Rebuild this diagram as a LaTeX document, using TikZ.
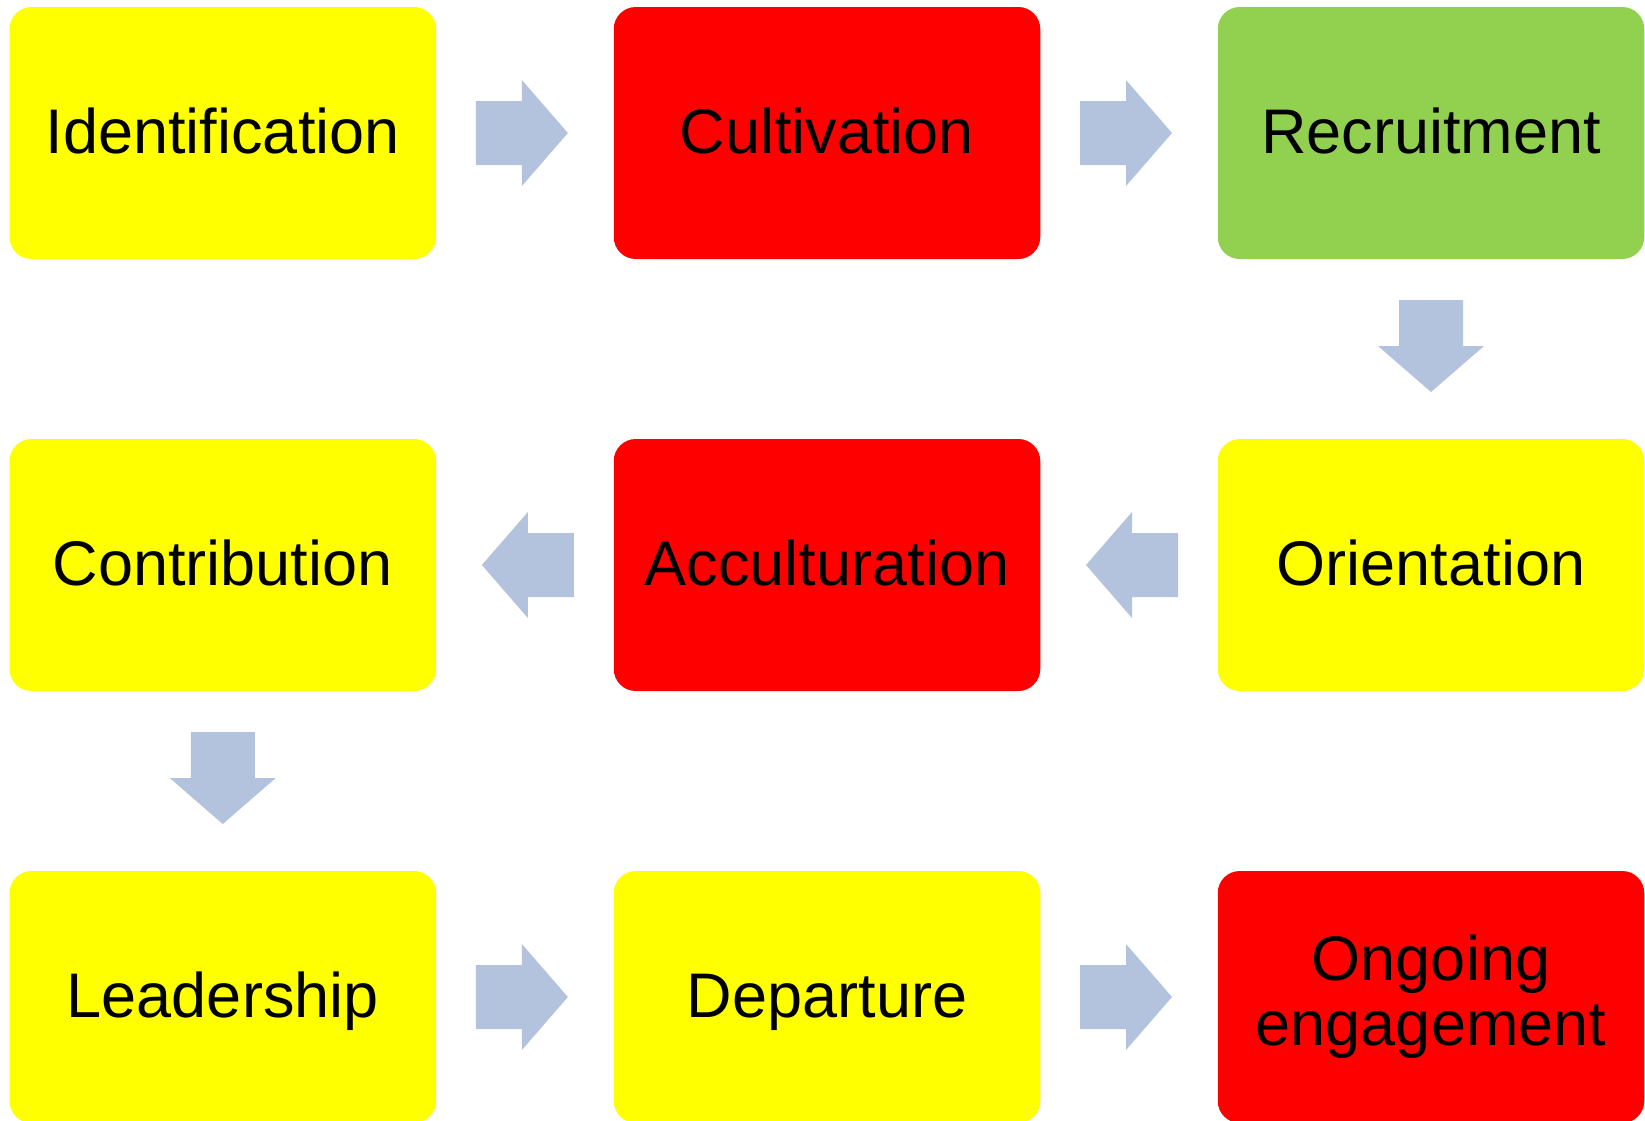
\documentclass[tikz,border=0pt]{standalone}
\usepackage{fontspec}
\setmainfont{Liberation Sans}
\usetikzlibrary{calc}

\definecolor{stepyellow}{RGB}{255,255,0}
\definecolor{stepred}{RGB}{255,0,0}
\definecolor{stepgreen}{RGB}{146,208,80}
\definecolor{arrowblue}{RGB}{179,195,222}

\tikzset{
  x=1pt, y=1pt,
  stagebox/.style={rectangle, rounded corners=22pt, inner sep=0pt,
    minimum width=426.5pt, minimum height=252pt, draw=none,
    font=\fontsize{63}{65}\selectfont, text=black},
  oneline/.style={text height=52pt, text depth=12pt},
  twoline/.style={align=center},
  blockarrow/.pic={
    \fill[arrowblue] (-49,-32) -- (-3,-32) -- (-3,-53) -- (43,0)
      -- (-3,53) -- (-3,32) -- (-49,32) -- cycle;
  }
}

\begin{document}
\begin{tikzpicture}
  \useasboundingbox (0,-1120) rectangle (1645,0);

  % first row
  \node[stagebox, oneline, fill=stepyellow] (ident) at (222.75,-133) {Identification};
  \node[stagebox, oneline, fill=stepred]    (cult)  at (827,-133)    {Cultivation};
  \node[stagebox, oneline, fill=stepgreen]  (recr)  at (1431,-133)   {Recruitment};

  % second row
  \node[stagebox, oneline, fill=stepyellow] (contr) at (222.75,-565) {Contribution};
  \node[stagebox, oneline, fill=stepred]    (accul) at (827,-565)    {Acculturation};
  \node[stagebox, oneline, fill=stepyellow] (orient) at (1431,-565)  {Orientation};

  % third row
  \node[stagebox, oneline, fill=stepyellow] (lead)  at (222.75,-997) {Leadership};
  \node[stagebox, oneline, fill=stepyellow] (depart) at (827,-997)   {Departure};
  \node[stagebox, twoline, fill=stepred]    (ongo)  at (1431,-997)   {Ongoing\\engagement};

  % block arrows between the stages
  \pic at ($(ident.east)!0.5!(cult.west)$) {blockarrow};
  \pic at ($(cult.east)!0.5!(recr.west)$) {blockarrow};
  \pic[rotate=-90] at ($(recr.south)!0.5!(orient.north)$) {blockarrow};
  \pic[rotate=180] at ($(orient.west)!0.5!(accul.east)$) {blockarrow};
  \pic[rotate=180] at ($(accul.west)!0.5!(contr.east)$) {blockarrow};
  \pic[rotate=-90] at ($(contr.south)!0.5!(lead.north)$) {blockarrow};
  \pic at ($(lead.east)!0.5!(depart.west)$) {blockarrow};
  \pic at ($(depart.east)!0.5!(ongo.west)$) {blockarrow};
\end{tikzpicture}
\end{document}
